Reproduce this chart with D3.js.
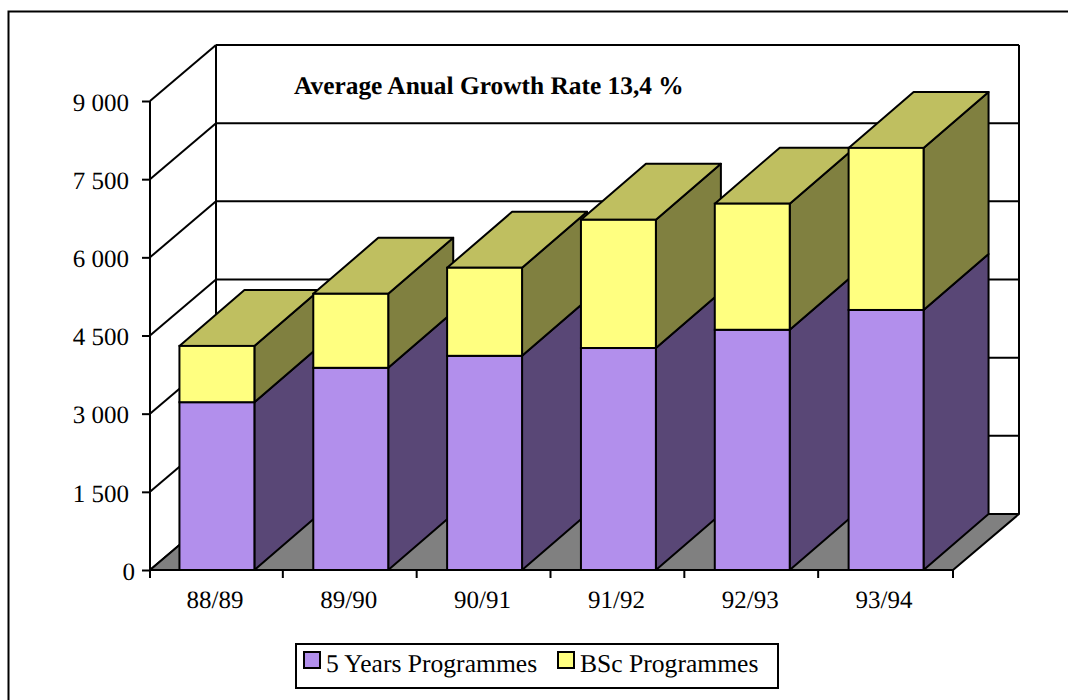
<!DOCTYPE html>
<html>
<head>
<meta charset="utf-8">
<script src="https://cdn.jsdelivr.net/npm/d3@7/dist/d3.min.js"></script>
<style>
  html, body { margin: 0; padding: 0; background: #fff; overflow: hidden; }
  text { font-family: "Liberation Serif", serif; fill: #000; text-rendering: geometricPrecision; }
</style>
</head>
<body>
<script>
// values
var years = ["88/89", "89/90", "90/91", "91/92", "92/93", "93/94"];
var five_years = [3220, 3880, 4110, 4260, 4610, 4990];
var bsc = [1080, 1420, 1690, 2460, 2420, 3110];
var y_ticks = [0, 1500, 3000, 4500, 6000, 7500, 9000];
var legend_names = ["5 Years Programmes", "BSc Programmes"];
var title = "Average Anual Growth Rate 13,4 %";

var w = 1068, h = 700;
var depth_x = 66, depth_y = -56; // oblique offset of the back wall

var fill_purple = "#b28fec", side_purple = "#594776";
var fill_yellow = "#ffff80", top_yellow = "#bfbf60", side_yellow = "#808040";
var floor_color = "#808080";

var svg = d3.select("body").append("svg")
  .attr("width", w)
  .attr("height", h)
  .style("display", "block");

// outer frame runs off the right and bottom of the page
svg.append("path")
  .attr("d", "M8.5," + h + "V11.5H" + w)
  .attr("fill", "none").attr("stroke", "#000").attr("stroke-width", 2);

var x = d3.scaleBand().domain(years).range([150, 953]).paddingInner(0.44).paddingOuter(0.22);
var y = d3.scaleLinear().domain([0, 9000]).range([570, 101]);

var x0 = x.range()[0], x1 = x.range()[1];

function poly(points, fill) {
  return svg.append("polygon")
    .attr("points", points.map(function(p) { return p.join(","); }).join(" "))
    .attr("fill", fill)
    .attr("stroke", "#000")
    .attr("stroke-width", 2)
    .attr("stroke-linejoin", "round");
}

function line(x_a, y_a, x_b, y_b) {
  svg.append("line")
    .attr("x1", x_a).attr("y1", y_a).attr("x2", x_b).attr("y2", y_b)
    .attr("stroke", "#000").attr("stroke-width", 2);
}

// walls
y_ticks.forEach(function(t) {
  line(x0, y(t), x0 + depth_x, y(t) + depth_y);
  line(x0 + depth_x, y(t) + depth_y, x1 + depth_x, y(t) + depth_y);
});
line(x0, y(0), x0, y(9000));
line(x0 + depth_x, y(0) + depth_y, x0 + depth_x, y(9000) + depth_y);
line(x1 + depth_x, y(0) + depth_y, x1 + depth_x, y(9000) + depth_y);

// floor
poly([[x0, y(0)], [x0 + depth_x, y(0) + depth_y], [x1 + depth_x, y(0) + depth_y], [x1, y(0)]], floor_color);

// draw a box between two values, left to right so later bars cover earlier ones
function box(x_left, v_low, v_high, front, side, top) {
  var x_right = x_left + x.bandwidth();
  var bar_dx = depth_x - 1;
  var y_low = y(v_low), y_high = y(v_high);
  poly([[x_right, y_low], [x_right + bar_dx, y_low + depth_y], [x_right + bar_dx, y_high + depth_y], [x_right, y_high]], side);
  if (top) {
    poly([[x_left, y_high], [x_left + bar_dx, y_high + depth_y], [x_right + bar_dx, y_high + depth_y], [x_right, y_high]], top);
  }
  svg.append("rect")
    .attr("x", x_left).attr("y", y_high)
    .attr("width", x.bandwidth()).attr("height", y_low - y_high)
    .attr("fill", front).attr("stroke", "#000").attr("stroke-width", 2);
}

years.forEach(function(yr, i) {
  box(x(yr), 0, five_years[i], fill_purple, side_purple, null);
  box(x(yr), five_years[i], five_years[i] + bsc[i], fill_yellow, side_yellow, top_yellow);
});

// y axis
var y_axis = d3.axisLeft(y)
  .tickValues(y_ticks)
  .tickSize(8)
  .tickSizeOuter(0)
  .tickPadding(13)
  .tickFormat(function(d) { return d3.format(",")(d).replace(",", " "); });

var y_g = svg.append("g").attr("transform", "translate(" + x0 + ",0)").call(y_axis);
y_g.select(".domain").remove();
y_g.selectAll("line").attr("stroke", "#000").attr("stroke-width", 2);
y_g.selectAll("text")
  .attr("dy", "0.37em")
  .attr("dx", function(d) { return d === 0 ? 6 : 0; }) // the zero sits closer to the axis
  .style("font-size", "25px").style("font-family", "Liberation Serif");

// x axis, the ticks sit between the categories
var x_axis = d3.axisBottom(x).tickSize(0).tickPadding(20);
var x_g = svg.append("g").attr("transform", "translate(-2," + y(0) + ")").call(x_axis);
x_g.select(".domain").remove();
x_g.selectAll("text").style("font-size", "25px").style("font-family", "Liberation Serif");

line(x0, y(0), x1, y(0));
d3.range(years.length + 1).forEach(function(i) {
  var tx = x0 + i * x.step() - (i > 0 && i < years.length ? 1 : 0);
  line(tx, y(0), tx, y(0) + 8);
});

// title
svg.append("text")
  .attr("x", 294).attr("y", 94)
  .style("font-size", "25.4px").style("font-weight", "bold")
  .text(title);

// legend
svg.append("rect")
  .attr("x", 296).attr("y", 644).attr("width", 482).attr("height", 44)
  .attr("fill", "#fff").attr("stroke", "#000").attr("stroke-width", 2);

var legend_x = [304, 558], legend_fill = [fill_purple, fill_yellow];
legend_names.forEach(function(name, i) {
  svg.append("rect")
    .attr("x", legend_x[i]).attr("y", 652).attr("width", 16).attr("height", 16)
    .attr("fill", legend_fill[i]).attr("stroke", "#000").attr("stroke-width", 2);
  svg.append("text")
    .attr("x", legend_x[i] + 22).attr("y", 672)
    .style("font-size", "25.6px")
    .text(name);
});
</script>
</body>
</html>
